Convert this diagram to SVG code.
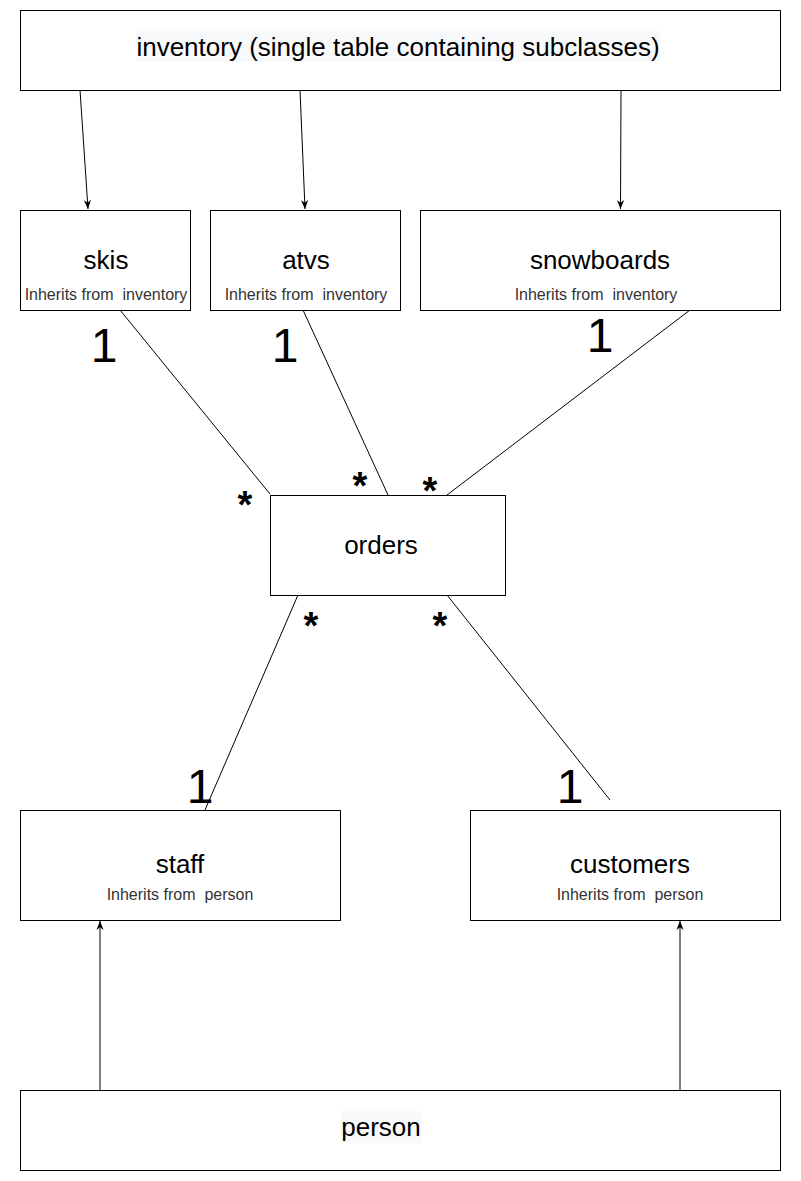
<svg xmlns="http://www.w3.org/2000/svg" width="801" height="1181" viewBox="0 0 801 1181">
<style>
.box{fill:#fff;stroke:#000;stroke-width:1}
.t{font-family:"Liberation Sans",Arial,sans-serif;fill:#000;text-anchor:middle}
.name{font-size:26px}
.sub{font-size:16px;fill:#333}
.mult{font-family:"Liberation Sans",Arial,sans-serif;fill:#000;text-anchor:middle;font-size:48px}
.star{font-family:"Liberation Sans",Arial,sans-serif;fill:#000;text-anchor:middle;font-size:38px;font-weight:bold}
.ln{stroke:#000;stroke-width:1;fill:none}
.hl{fill:#f8f9fa}
</style>
<defs>
<marker id="arr" viewBox="0 0 10 10" refX="10" refY="5" markerWidth="9" markerHeight="9" orient="auto" markerUnits="userSpaceOnUse">
<path d="M0,1 L10,5 L0,9 L3,5 Z" fill="#000"/>
</marker>
</defs>
<rect width="801" height="1181" fill="#fff"/>
<g id="connectors">
<line class="ln" x1="80" y1="90" x2="88" y2="209" marker-end="url(#arr)"/>
<line class="ln" x1="300" y1="90" x2="305" y2="209" marker-end="url(#arr)"/>
<line class="ln" x1="621" y1="90" x2="620.5" y2="209" marker-end="url(#arr)"/>
<line class="ln" x1="120" y1="310" x2="270" y2="494"/>
<line class="ln" x1="303" y1="310" x2="388" y2="495"/>
<line class="ln" x1="690" y1="310" x2="447" y2="495"/>
<line class="ln" x1="298" y1="595" x2="205" y2="810"/>
<line class="ln" x1="447" y1="595" x2="610" y2="800"/>
<line class="ln" x1="100" y1="1090" x2="100" y2="921" marker-end="url(#arr)"/>
<line class="ln" x1="680" y1="1090" x2="680" y2="921" marker-end="url(#arr)"/>
<text class="mult" x="104" y="362">1</text>
<text class="mult" x="285" y="362">1</text>
<text class="mult" x="600" y="352">1</text>
<text class="mult" x="200" y="803">1</text>
<text class="mult" x="570" y="803">1</text>
<text class="star" x="245" y="518">*</text>
<text class="star" x="360" y="499">*</text>
<text class="star" x="430" y="504">*</text>
<text class="star" x="311" y="639">*</text>
<text class="star" x="440" y="639">*</text>
</g>
<g id="inventory">
<rect class="box" x="20.5" y="10.5" width="760" height="80"/>
<rect class="hl" x="136" y="31" width="524" height="31"/>
<text class="t name" x="398" y="56">inventory (single table containing subclasses)</text>
</g>
<g id="skis">
<rect class="box" x="20.5" y="210.5" width="170" height="100"/>
<text class="t name" x="106" y="269">skis</text>
<text class="t sub" x="106" y="300">Inherits from&#160; inventory</text>
</g>
<g id="atvs">
<rect class="box" x="210.5" y="210.5" width="190" height="100"/>
<text class="t name" x="306" y="269">atvs</text>
<text class="t sub" x="306" y="300">Inherits from&#160; inventory</text>
</g>
<g id="snowboards">
<rect class="box" x="420.5" y="210.5" width="360" height="100"/>
<text class="t name" x="600" y="269">snowboards</text>
<text class="t sub" x="596" y="300">Inherits from&#160; inventory</text>
</g>
<g id="orders">
<rect class="box" x="270.5" y="495.5" width="235" height="100"/>
<text class="t name" x="381" y="554">orders</text>
</g>
<g id="staff">
<rect class="box" x="20.5" y="810.5" width="320" height="110"/>
<text class="t name" x="180" y="873">staff</text>
<text class="t sub" x="180" y="900">Inherits from&#160; person</text>
</g>
<g id="customers">
<rect class="box" x="470.5" y="810.5" width="310" height="110"/>
<text class="t name" x="630" y="873">customers</text>
<text class="t sub" x="630" y="900">Inherits from&#160; person</text>
</g>
<g id="person">
<rect class="box" x="20.5" y="1090.5" width="760" height="80"/>
<rect class="hl" x="341" y="1111" width="81" height="32"/>
<text class="t name" x="381" y="1136">person</text>
</g>
</svg>
